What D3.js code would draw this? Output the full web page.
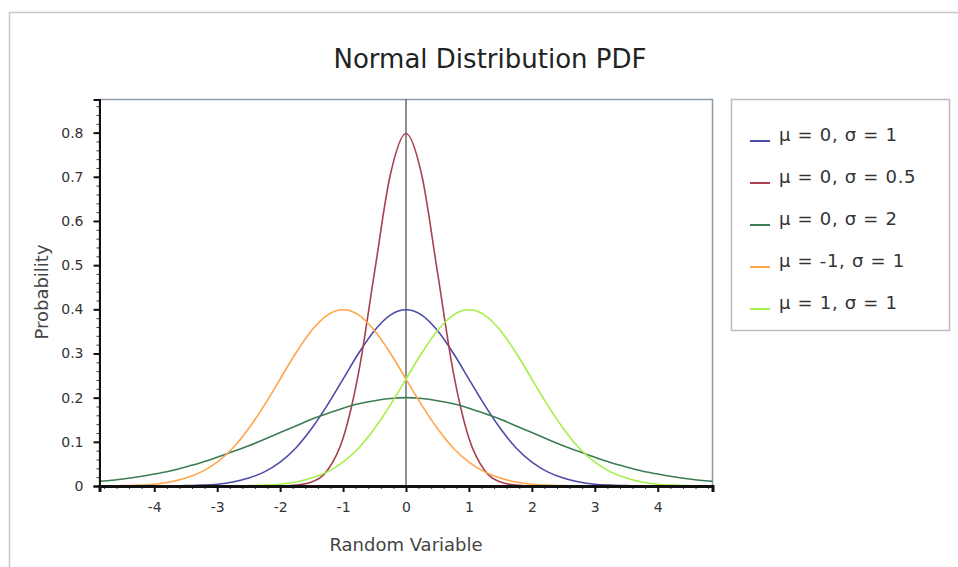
<!DOCTYPE html>
<html>
<head>
<meta charset="UTF-8">
<title>Normal Distribution PDF</title>
<style>
  body { margin: 0; background: #fff; }
  svg { display: block; font-family: "DejaVu Sans", Verdana, sans-serif; }
</style>
</head>
<body>
<svg></svg>
<script src="https://d3js.org/d3.v7.min.js"></script>
<script>

let width = 958, height = 567;

let xs = [-5, -4.75, -4.5, -4.25, -4, -3.75, -3.5, -3.25, -3, -2.75, -2.5, -2.25, -2, -1.75, -1.5, -1.25, -1, -0.75, -0.5, -0.25,
          0, 0.25, 0.5, 0.75, 1, 1.25, 1.5, 1.75, 2, 2.25, 2.5, 2.75, 3, 3.25, 3.5, 3.75, 4, 4.25, 4.5, 4.75, 5];

let seriesNames = ["μ = 0, σ = 1", "μ = 0, σ = 0.5", "μ = 0, σ = 2", "μ = -1, σ = 1", "μ = 1, σ = 1"];
let seriesColors = ["#4c4ca8", "#a8404e", "#3c7c52", "#ffa64a", "#a6ee4a"];

let mu0sd1 = [0, 0, 0, 0, 0, 0, 0.001, 0.002, 0.004, 0.009, 0.018, 0.032, 0.054, 0.086, 0.13, 0.183, 0.242, 0.301, 0.352, 0.387,
              0.399, 0.387, 0.352, 0.301, 0.242, 0.183, 0.13, 0.086, 0.054, 0.032, 0.018, 0.009, 0.004, 0.002, 0.001, 0, 0, 0, 0, 0, 0];
let mu0sd05 = [0, 0, 0, 0, 0, 0, 0, 0, 0, 0, 0, 0, 0, 0.002, 0.009, 0.035, 0.108, 0.259, 0.484, 0.704,
               0.798, 0.704, 0.484, 0.259, 0.108, 0.035, 0.009, 0.002, 0, 0, 0, 0, 0, 0, 0, 0, 0, 0, 0, 0, 0];
let mu0sd2 = [0.009, 0.012, 0.016, 0.021, 0.027, 0.034, 0.043, 0.053, 0.065, 0.078, 0.091, 0.106, 0.121, 0.136, 0.151, 0.164, 0.176, 0.186, 0.193, 0.198,
              0.2, 0.198, 0.193, 0.186, 0.176, 0.164, 0.151, 0.136, 0.121, 0.106, 0.091, 0.078, 0.065, 0.053, 0.043, 0.034, 0.027, 0.021, 0.016, 0.012, 0.009];
let muM1sd1 = [0, 0, 0.001, 0.002, 0.004, 0.009, 0.018, 0.032, 0.054, 0.086, 0.13, 0.183, 0.242, 0.301, 0.352, 0.387, 0.399, 0.387, 0.352, 0.301,
               0.242, 0.183, 0.13, 0.086, 0.054, 0.032, 0.018, 0.009, 0.004, 0.002, 0.001, 0, 0, 0, 0, 0, 0, 0, 0, 0, 0];
let muP1sd1 = [0, 0, 0, 0, 0, 0, 0, 0, 0, 0, 0.001, 0.002, 0.004, 0.009, 0.018, 0.032, 0.054, 0.086, 0.13, 0.183,
               0.242, 0.301, 0.352, 0.387, 0.399, 0.387, 0.352, 0.301, 0.242, 0.183, 0.13, 0.086, 0.054, 0.032, 0.018, 0.009, 0.004, 0.002, 0.001, 0, 0];

let allSeries = [mu0sd1, mu0sd05, mu0sd2, muM1sd1, muP1sd1];

let xTicks = [-4, -3, -2, -1, 0, 1, 2, 3, 4];
let yTicks = [0, 0.1, 0.2, 0.3, 0.4, 0.5, 0.6, 0.7, 0.8];

let svg = d3.select("svg")
    .attr("width", width)
    .attr("height", height);

// plot area
let pLeft = 99.5, pTop = 99.5, pRight = 712.5, pBottom = 486;

let x = d3.scaleLinear().domain([-4.87, 4.87]).range([pLeft, pRight]);
let y = d3.scaleLinear().domain([0, 0.875]).range([pBottom, pTop]);

// outer frame
svg.append("rect")
    .attr("x", 9.5).attr("y", 12.5)
    .attr("width", 1000).attr("height", 1000)
    .attr("fill", "none")
    .attr("stroke", "#c4c8cc")
    .attr("stroke-width", 1.5);

// title
svg.append("text")
    .attr("x", 490).attr("y", 68)
    .attr("text-anchor", "middle")
    .attr("font-size", 26)
    .attr("fill", "#222")
    .text("Normal Distribution PDF");

// plot frame
svg.append("rect")
    .attr("x", pLeft).attr("y", pTop)
    .attr("width", pRight - pLeft).attr("height", pBottom - pTop)
    .attr("fill", "#fff")
    .attr("stroke", "#8e9aa6")
    .attr("stroke-width", 1.5);

svg.append("defs").append("clipPath")
    .attr("id", "clip")
    .append("rect")
    .attr("x", pLeft).attr("y", pTop)
    .attr("width", pRight - pLeft).attr("height", pBottom - pTop);

// vertical line at 0
svg.append("line")
    .attr("x1", x(0)).attr("x2", x(0))
    .attr("y1", pTop).attr("y2", pBottom)
    .attr("stroke", "#222")
    .attr("stroke-width", 1);

// curves
let line = d3.line()
    .x((d, i) => x(xs[i]))
    .y(d => y(d))
    .curve(d3.curveMonotoneX);

svg.append("g")
    .attr("clip-path", "url(#clip)")
    .selectAll("path")
    .data(allSeries)
    .enter()
    .append("path")
    .attr("d", line)
    .attr("fill", "none")
    .attr("stroke", (d, i) => seriesColors[i])
    .attr("stroke-width", 1.6);

// y axis with minor ticks
let yMinor = d3.range(0, 0.87, 0.02);
svg.append("g")
    .attr("transform", "translate(" + pLeft + ",0)")
    .call(d3.axisLeft(y).tickValues(yMinor).tickSize(3).tickFormat(""))
    .call(g => g.select(".domain").remove())
    .selectAll("line").attr("stroke", "#333");

svg.append("g")
    .attr("transform", "translate(" + pLeft + ",0)")
    .call(d3.axisLeft(y).tickValues(yTicks).tickSize(6).tickPadding(10).tickFormat(d => d === 0 ? "0" : d3.format(".1f")(d)))
    .call(g => g.select(".domain").attr("stroke", "#111").attr("stroke-width", 2))
    .call(g => g.selectAll("text").attr("font-size", 14).attr("fill", "#333").attr("font-family", "DejaVu Sans, sans-serif"))
    .call(g => g.selectAll("line").attr("stroke", "#111").attr("stroke-width", 2));

// x axis with minor ticks
let xMinor = d3.range(-4.8, 4.81, 0.2);
svg.append("g")
    .attr("transform", "translate(0," + pBottom + ")")
    .call(d3.axisBottom(x).tickValues(xMinor).tickSize(3).tickFormat(""))
    .call(g => g.select(".domain").remove())
    .selectAll("line").attr("stroke", "#333");

svg.append("g")
    .attr("transform", "translate(0," + pBottom + ")")
    .call(d3.axisBottom(x).tickValues(xTicks).tickSize(6).tickPadding(10).tickFormat(d => String(d)))
    .call(g => g.select(".domain").attr("stroke", "#111").attr("stroke-width", 3))
    .call(g => g.selectAll("text").attr("font-size", 14).attr("fill", "#333").attr("font-family", "DejaVu Sans, sans-serif"))
    .call(g => g.selectAll("line").attr("stroke", "#111").attr("stroke-width", 2));

// axis titles
svg.append("text")
    .attr("x", 406).attr("y", 551)
    .attr("text-anchor", "middle")
    .attr("font-size", 18)
    .attr("fill", "#444")
    .text("Random Variable");

svg.append("text")
    .attr("transform", "translate(48,292) rotate(-90)")
    .attr("text-anchor", "middle")
    .attr("font-size", 18)
    .attr("fill", "#444")
    .text("Probability");

// legend
let legend = svg.append("g");
legend.append("rect")
    .attr("x", 731.5).attr("y", 99.5)
    .attr("width", 218).attr("height", 231)
    .attr("fill", "#fff")
    .attr("stroke", "#b8bcc0")
    .attr("stroke-width", 1.5);

let items = legend.selectAll("g.item")
    .data(seriesNames)
    .enter()
    .append("g")
    .attr("class", "item")
    .attr("transform", (d, i) => "translate(750," + (135 + i * 42) + ")");

items.append("line")
    .attr("x1", 0).attr("x2", 20)
    .attr("y1", 6).attr("y2", 6)
    .attr("stroke", (d, i) => seriesColors[i])
    .attr("stroke-width", 2);

items.append("text")
    .attr("x", 29).attr("y", 6)
    .attr("font-size", 18)
    .attr("letter-spacing", 0.7)
    .attr("fill", "#333")
    .text(d => d);

</script>
</body>
</html>
